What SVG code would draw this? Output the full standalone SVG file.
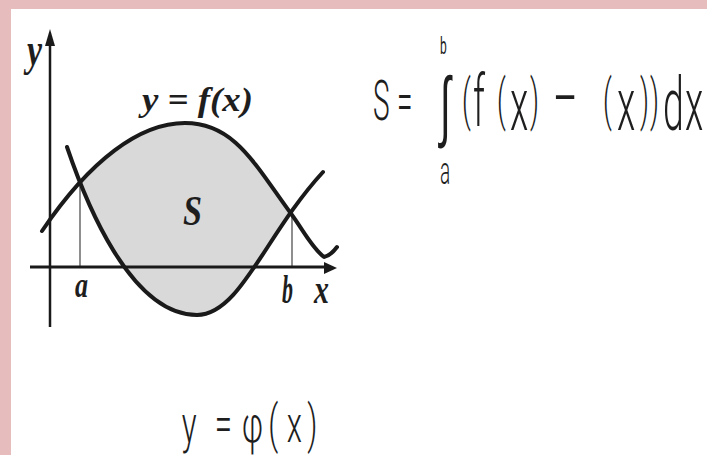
<svg xmlns="http://www.w3.org/2000/svg" width="707" height="455" viewBox="0 0 707 455">
  <defs>
    <style>
      .lbl { font-family: "Liberation Serif", "DejaVu Serif", serif; font-weight: bold; font-style: italic; fill: #1e1e1e; }
      .frm { font-family: Roboto, "Liberation Sans", sans-serif; font-weight: 300; fill: #1e1e1e; }
      .curve { fill: none; stroke: #1a1a1a; stroke-width: 4; stroke-linecap: round; stroke-linejoin: round; }
      .axis { stroke: #1a1a1a; fill: none; }
      .guide { stroke: #444; stroke-width: 1.2; fill: none; }
    </style>
    <clipPath id="ab">
      <rect x="80" y="100" width="212" height="230"/>
    </clipPath>
  </defs>

  <rect width="707" height="455" fill="#e6bcbd"/>
  <rect x="11" y="9" width="696" height="446" fill="#ffffff"/>

  <g id="graph">
    <path id="shade" clip-path="url(#ab)" fill="#d9d9d9" stroke="none"
      d="M42,231 C90,160 140,123 185,123 C235,123 255,165 292,215 C303,230 318,245 332,254 L323,172 C265,235 240,315 197,315 C130,315 85,200 67,147 Z"/>
    <line class="guide" x1="80" y1="182" x2="80" y2="267"/>
    <line class="guide" x1="292" y1="215" x2="292" y2="267"/>
    <g id="axes">
      <line class="axis" x1="50" y1="327" x2="50" y2="40" stroke-width="2.5"/>
      <polygon points="50,29 45,46 55,46" fill="#1a1a1a"/>
      <line class="axis" x1="30" y1="267" x2="328" y2="267" stroke-width="3"/>
      <polygon points="337,268 324,262 324,274" fill="#1a1a1a"/>
    </g>
    <path id="f" class="curve" d="M42,231 C90,160 140,123 185,123 C235,123 255,165 292,215 C303,230 312,248 324,257 C330,256 334,251 337,247"/>
    <path id="phi" class="curve" d="M67,147 C85,200 130,315 197,315 C240,315 265,235 323,172"/>
    <text class="lbl" x="27" y="65" font-size="46" textLength="15" lengthAdjust="spacingAndGlyphs">y</text>
    <text class="lbl" x="142" y="111" font-size="33" textLength="111" lengthAdjust="spacingAndGlyphs">y = f(x)</text>
    <text class="lbl" x="183" y="225" font-size="42" textLength="19" lengthAdjust="spacingAndGlyphs">S</text>
    <text class="lbl" x="75" y="297" font-size="36" textLength="13" lengthAdjust="spacingAndGlyphs">a</text>
    <text class="lbl" x="282" y="303" font-size="40" textLength="11" lengthAdjust="spacingAndGlyphs">b</text>
    <text class="lbl" x="314" y="303" font-size="40" textLength="15" lengthAdjust="spacingAndGlyphs">x</text>
  </g>

  <g id="formula">
    <text class="frm" transform="scale(0.5,1)"><tspan x="746" y="120" font-size="56">S</tspan><tspan x="794" y="120" font-size="56">=</tspan><tspan x="880" y="54" font-size="24" font-weight="400">b</tspan><tspan x="880" y="132" font-size="78" font-family="DejaVu Sans, sans-serif">∫</tspan><tspan x="880" y="184" font-size="38">a</tspan><tspan x="924" y="119" font-size="55">(</tspan><tspan x="946" y="126" font-size="72">f</tspan><tspan x="994" y="119" font-size="55">(</tspan><tspan x="1020" y="130" font-size="75">x</tspan><tspan x="1060" y="119" font-size="55">)</tspan><tspan x="1106" y="124" font-size="75">–</tspan><tspan x="1206" y="119" font-size="55">(</tspan><tspan x="1234" y="130" font-size="75">x</tspan><tspan x="1280" y="119" font-size="55">)</tspan><tspan x="1300" y="119" font-size="55">)</tspan><tspan x="1326" y="130" font-size="75">d</tspan><tspan x="1370" y="130" font-size="75">x</tspan></text>
  </g>

  <g id="phi-label">
    <text class="frm" transform="scale(0.6,1)" font-size="52"><tspan x="303" y="442">y</tspan><tspan x="358" y="442">=</tspan><tspan x="403" y="442">φ</tspan><tspan x="447" y="442">(</tspan><tspan x="478" y="442">x</tspan><tspan x="512" y="442">)</tspan></text>
  </g>
</svg>
